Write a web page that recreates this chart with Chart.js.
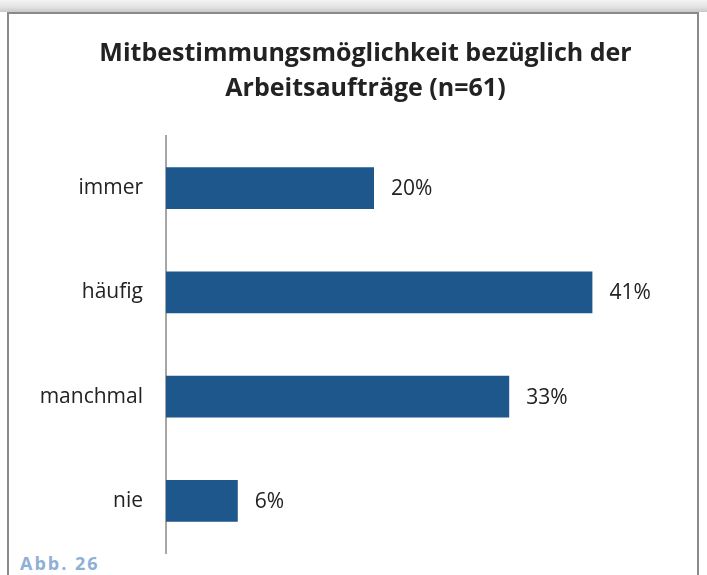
<!DOCTYPE html>
<html>
<head>
<meta charset="utf-8">
<script src="https://cdn.jsdelivr.net/npm/chart.js@4.4.1/dist/chart.umd.min.js"></script>
<style>
  html, body { margin: 0; padding: 0; background: #fff; width: 707px; height: 575px; overflow: hidden; position: relative; }
  #shadow { position: absolute; left: 0; top: 0; width: 707px; height: 12px;
    background: linear-gradient(to bottom, #f4f4f4 0%, #e2e2e2 60%, #c8c8c8 100%); }
  #frame { position: absolute; left: 7px; top: 12px; width: 688px; height: 600px;
    border: 2px solid #8a8a8a; background: #fff; }
  #wrap { position: absolute; left: 24px; top: 13px; width: 683px; height: 562px; }
  #abb { position: absolute; left: 20px; top: 551px; font-family: "Open Sans", sans-serif;
    font-weight: bold; font-size: 18px; color: #8fb0d6; letter-spacing: 2px; background: #fff; padding-right: 2px; }
</style>
</head>
<body>
<div id="shadow"></div>
<div id="frame"></div>
<div id="wrap"><canvas id="c" width="683" height="562"></canvas></div>
<div id="abb">Abb. 26</div>
<script>
const categories = ["immer", "häufig", "manchmal", "nie"];
const values = [20, 41, 33, 6.9];
const valueLabels = ["20%", "41%", "33%", "6%"];
const titleLines = ["Mitbestimmungsmöglichkeit bezüglich der", "Arbeitsaufträge (n=61)"];

const valueLabelPlugin = {
  id: "valueLabels",
  afterDatasetsDraw(chart) {
    const ctx = chart.ctx;
    const meta = chart.getDatasetMeta(0);
    ctx.save();
    ctx.font = "21px 'Open Sans', sans-serif";
    ctx.fillStyle = "#222";
    ctx.textAlign = "left";
    ctx.textBaseline = "middle";
    meta.data.forEach((bar, i) => {
      ctx.fillText(valueLabels[i], bar.x + 17, bar.y + 1);
    });
    ctx.restore();
  }
};

// shift the title block so it is centred like the original
const titleShiftPlugin = {
  id: "titleShift",
  afterLayout(chart) {
    if (chart.titleBlock) { chart.titleBlock.left += 21; }
  }
};

new Chart(document.getElementById("c"), {
  type: "bar",
  data: {
    labels: categories,
    datasets: [{
      data: values,
      backgroundColor: "#1d578b",
      borderWidth: 0,
      barPercentage: 0.4,
      categoryPercentage: 1.0
    }]
  },
  options: {
    indexAxis: "y",
    responsive: false,
    animation: false,
    devicePixelRatio: 1,
    layout: { padding: { top: 0, right: 21, bottom: 22, left: 0 } },
    plugins: {
      legend: { display: false },
      tooltip: { enabled: false },
      title: {
        display: true,
        text: titleLines,
        color: "#222",
        font: { family: "'Open Sans', sans-serif", size: 25, weight: "bold", lineHeight: 1.4 },
        padding: { top: 23, bottom: 30 }
      }
    },
    scales: {
      x: {
        display: false,
        min: 0,
        max: 50
      },
      y: {
        grid: { display: false, drawTicks: false },
        border: { display: true, color: "#a6a6a6", width: 2 },
        ticks: {
          color: "#222",
          padding: 23,
          font: { family: "'Open Sans', sans-serif", size: 21 }
        },
        afterFit(scale) {
          scale.width = 142;
          scale.paddingTop = 0;
          scale.paddingBottom = 0;
        }
      }
    }
  },
  plugins: [valueLabelPlugin, titleShiftPlugin]
});
</script>
</body>
</html>
